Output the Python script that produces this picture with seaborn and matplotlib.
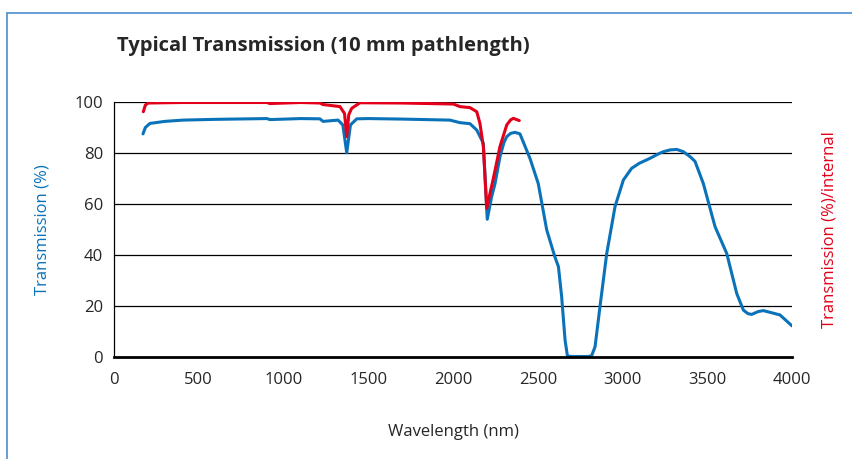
import numpy as np
import pandas as pd
import matplotlib
matplotlib.use("Agg")
import matplotlib.pyplot as plt
from matplotlib.lines import Line2D
import seaborn as sns

# blue: measured transmission (%)
wl_total = [171, 185, 212, 300, 407, 600, 902, 920, 1100, 1215, 1233, 1322, 1350, 1373, 1395,
            1432, 1500, 1700, 1982, 2041, 2100, 2140, 2159, 2179, 2202, 2228, 2248, 2277,
            2300, 2317, 2340, 2366, 2395, 2454, 2503, 2553, 2600, 2622, 2641, 2661, 2675,
            2700, 2800, 2818, 2838, 2867, 2907, 2956, 3005, 3054, 3100, 3162, 3210, 3241,
            3280, 3320, 3359, 3400, 3428, 3477, 3546, 3615, 3674, 3713, 3740, 3762, 3800,
            3831, 3929, 4000]
t_total = [87.5, 90.0, 91.6, 92.4, 92.9, 93.2, 93.5, 93.1, 93.5, 93.4, 92.4, 92.9, 91.0, 80.1,
           91.0, 93.4, 93.5, 93.3, 92.9, 91.9, 91.5, 89.0, 86.5, 83.8, 54.0, 62.9, 68.0,
           78.5, 84.0, 86.4, 87.7, 88.1, 87.5, 77.9, 68.0, 49.8, 39.5, 35.4, 23.7, 6.7, 0.4,
           0.2, 0.2, 0.5, 4.0, 19.7, 40.6, 59.0, 69.4, 74.0, 76.0, 77.9, 79.6, 80.5, 81.2,
           81.4, 80.5, 78.5, 76.7, 68.0, 51.1, 40.6, 24.9, 18.4, 17.0, 16.7, 17.8, 18.2,
           16.5, 12.2]

# red: internal transmission (%)
wl_internal = [173, 185, 202, 400, 902, 920, 1100, 1215, 1233, 1333, 1360, 1373, 1385, 1402,
               1451, 1700, 2002, 2041, 2100, 2140, 2159, 2179, 2199, 2218, 2238, 2277,
               2317, 2340, 2356, 2391]
t_internal = [96.2, 98.8, 99.6, 99.8, 99.8, 99.4, 99.8, 99.6, 99.0, 98.2, 95.5, 86.4, 95.0,
              97.5, 99.7, 99.6, 99.2, 98.2, 97.8, 96.2, 91.6, 82.5, 58.3, 64.1, 70.0, 82.5,
              91.0, 93.0, 93.6, 92.7]

blue = "#0a72b9"
red = "#e2001a"

sns.set_style("white")
plt.rcParams["font.family"] = ["Open Sans", "DejaVu Sans"]

df_total = pd.DataFrame({"wl": wl_total, "t": t_total})
df_int = pd.DataFrame({"wl": wl_internal, "t": t_internal})

fig = plt.figure(figsize=(8.52, 4.59), dpi=100)
ax = fig.add_axes([114 / 852, 1 - 357 / 459, 678 / 852, 255 / 459])

for y in [20, 40, 60, 80, 100]:
    ax.axhline(y, color="black", lw=0.9, zorder=1)

sns.lineplot(data=df_total, x="wl", y="t", ax=ax, color=blue, lw=2.2, zorder=3)
sns.lineplot(data=df_int, x="wl", y="t", ax=ax, color=red, lw=2.2, zorder=4)

ax.set_xlim(0, 4000)
ax.set_ylim(0, 100)
ax.set_xticks(range(0, 4001, 500))
ax.set_yticks(range(0, 101, 20))
ax.tick_params(axis="x", direction="out", length=6, width=1.2, color="black",
               labelsize=12, pad=5)
ax.tick_params(axis="y", length=0, labelsize=12, pad=8)
for s in ["top", "right"]:
    ax.spines[s].set_visible(False)
ax.spines["left"].set_color("black")
ax.spines["left"].set_linewidth(0.9)
ax.spines["bottom"].set_color("black")
ax.spines["bottom"].set_linewidth(2.0)
ax.spines["bottom"].set_zorder(5)

ax.set_xlabel("Wavelength (nm)", fontsize=12)
ax.xaxis.set_label_coords(0.5, -0.294)
ax.xaxis.label.set_va("center")
ax.set_ylabel("Transmission (%)", fontsize=12, color=blue)
ax.yaxis.set_label_coords(-0.106, 0.5)
ax.yaxis.label.set_va("center")
fig.text(830 / 852, 1 - 230 / 459, "Transmission (%)/internal", color=red,
         fontsize=12, rotation=90, ha="center", va="center")

fig.text(117 / 852, 1 - 46 / 459, "Typical Transmission (10 mm pathlength)",
         fontsize=14.5, fontweight="bold", ha="left", va="center")

# thin blue frame around the panel
frame_c = "#4b8fcf"
fig.add_artist(Line2D([7 / 852, 1], [1 - 13 / 459, 1 - 13 / 459], color=frame_c, lw=1.2,
                      transform=fig.transFigure))
fig.add_artist(Line2D([7 / 852, 7 / 852], [0, 1 - 13 / 459], color=frame_c, lw=1.2,
                      transform=fig.transFigure))

fig.savefig("out.png", dpi=100)
